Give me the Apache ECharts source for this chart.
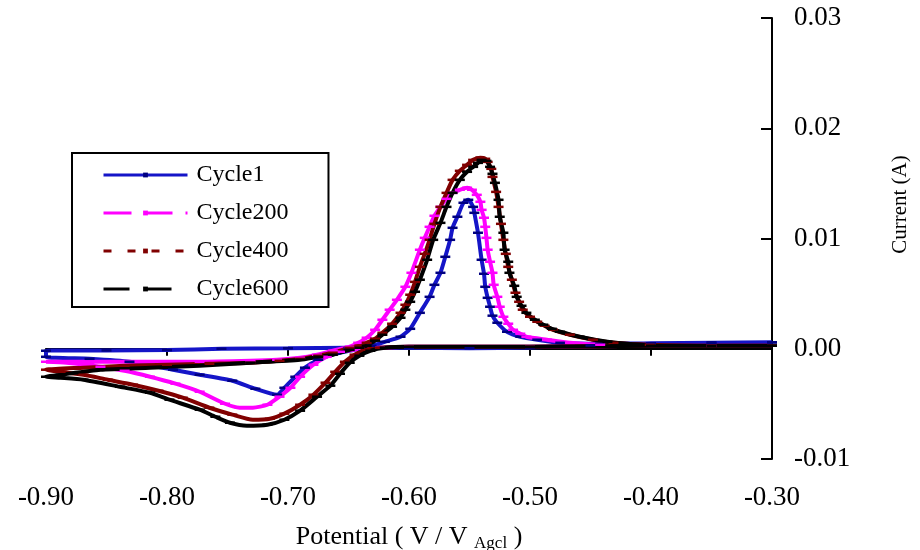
<!DOCTYPE html>
<html lang="en">
<head>
  <meta charset="UTF-8">
  <title>Cyclic voltammograms</title>
  <script src="https://cdn.jsdelivr.net/npm/echarts@6/dist/echarts.min.js"></script>
  <style>
    html, body { margin: 0; padding: 0; background: #fff; }
    #main { width: 920px; height: 550px; }
  </style>
</head>
<body>
<div id="main"></div>
<script>
var seriesNames = ['Cycle1', 'Cycle200', 'Cycle400', 'Cycle600']

// [potential (V), current (A)] in scan order
var cycle1 = [
  [-0.300, 0.00058], [-0.350, 0.00055], [-0.400, 0.00050], [-0.450, 0.00030], [-0.500, 0.00012],
  [-0.550, 0.00005], [-0.600, 0.00009], [-0.650, 0.00009], [-0.700, 0.00005], [-0.755, 0.00000],
  [-0.800, -0.00012], [-0.850, -0.00015], [-0.900, -0.00018],
  [-0.900, -0.00073], [-0.864, -0.00091], [-0.831, -0.00118], [-0.795, -0.00190], [-0.773, -0.00236],
  [-0.746, -0.00290], [-0.727, -0.00363], [-0.709, -0.00417],
  [-0.703, -0.00354], [-0.694, -0.00254], [-0.686, -0.00172], [-0.675, -0.00100], [-0.661, -0.00045],
  [-0.645, -0.00009], [-0.631, 0.00027], [-0.620, 0.00063], [-0.607, 0.00109], [-0.599, 0.00181],
  [-0.591, 0.00326], [-0.583, 0.00471], [-0.579, 0.00580], [-0.574, 0.00689], [-0.570, 0.00834],
  [-0.566, 0.00988], [-0.564, 0.01097], [-0.560, 0.01197], [-0.555, 0.01324], [-0.551, 0.01351],
  [-0.547, 0.01287], [-0.546, 0.01233], [-0.543, 0.01052], [-0.540, 0.00807], [-0.538, 0.00680],
  [-0.537, 0.00562], [-0.535, 0.00462], [-0.533, 0.00381], [-0.531, 0.00300], [-0.527, 0.00236],
  [-0.519, 0.00154], [-0.508, 0.00109], [-0.494, 0.00082], [-0.475, 0.00054], [-0.442, 0.00045],
  [-0.400, 0.00050], [-0.350, 0.00055], [-0.300, 0.00058]
]

var cycle200 = [
  [-0.300, 0.00027], [-0.400, 0.00027], [-0.500, 0.00018], [-0.600, 0.00018], [-0.624, 0.00009],
  [-0.641, 0.00000], [-0.646, -0.00009], [-0.657, -0.00027], [-0.668, -0.00073], [-0.679, -0.00145],
  [-0.690, -0.00254], [-0.698, -0.00354], [-0.707, -0.00435], [-0.717, -0.00508], [-0.729, -0.00535],
  [-0.740, -0.00535], [-0.752, -0.00499], [-0.773, -0.00390], [-0.793, -0.00317], [-0.814, -0.00254],
  [-0.835, -0.00200], [-0.855, -0.00163], [-0.883, -0.00127], [-0.900, -0.00118],
  [-0.883, -0.00118], [-0.855, -0.00118], [-0.814, -0.00118], [-0.773, -0.00118], [-0.731, -0.00109],
  [-0.709, -0.00100], [-0.690, -0.00082], [-0.676, -0.00054], [-0.663, -0.00018], [-0.649, 0.00018],
  [-0.642, 0.00054], [-0.635, 0.00100], [-0.628, 0.00172], [-0.622, 0.00263], [-0.616, 0.00354],
  [-0.610, 0.00444], [-0.603, 0.00562], [-0.598, 0.00689], [-0.591, 0.00898], [-0.587, 0.01006],
  [-0.583, 0.01106], [-0.579, 0.01206], [-0.574, 0.01287], [-0.569, 0.01360], [-0.564, 0.01414],
  [-0.558, 0.01442], [-0.552, 0.01460], [-0.548, 0.01442], [-0.544, 0.01396], [-0.541, 0.01333],
  [-0.540, 0.01260], [-0.538, 0.01188], [-0.537, 0.01106], [-0.536, 0.01006], [-0.535, 0.00898],
  [-0.533, 0.00789], [-0.531, 0.00689], [-0.530, 0.00580], [-0.527, 0.00471], [-0.525, 0.00381],
  [-0.522, 0.00290], [-0.518, 0.00227], [-0.514, 0.00172], [-0.508, 0.00136], [-0.503, 0.00109],
  [-0.486, 0.00082], [-0.467, 0.00054], [-0.442, 0.00036], [-0.400, 0.00027], [-0.350, 0.00027],
  [-0.300, 0.00027]
]

var cycle400 = [
  [-0.300, 0.00027], [-0.400, 0.00027], [-0.500, 0.00018], [-0.600, 0.00018], [-0.624, 0.00009],
  [-0.636, -0.00009], [-0.645, -0.00054], [-0.653, -0.00118], [-0.661, -0.00209], [-0.669, -0.00308],
  [-0.679, -0.00417], [-0.690, -0.00508], [-0.703, -0.00589], [-0.715, -0.00635], [-0.729, -0.00644],
  [-0.746, -0.00598], [-0.765, -0.00535], [-0.787, -0.00444], [-0.807, -0.00381], [-0.828, -0.00326],
  [-0.849, -0.00281], [-0.869, -0.00236], [-0.888, -0.00209], [-0.900, -0.00190],
  [-0.869, -0.00172], [-0.835, -0.00154], [-0.800, -0.00145], [-0.765, -0.00136], [-0.731, -0.00127],
  [-0.707, -0.00109], [-0.690, -0.00091], [-0.675, -0.00063], [-0.663, -0.00036], [-0.649, 0.00009],
  [-0.641, 0.00027], [-0.635, 0.00054], [-0.628, 0.00091], [-0.622, 0.00145], [-0.614, 0.00227],
  [-0.607, 0.00326], [-0.603, 0.00399], [-0.599, 0.00490], [-0.595, 0.00607], [-0.591, 0.00743],
  [-0.587, 0.00861], [-0.583, 0.00988], [-0.579, 0.01133], [-0.574, 0.01287], [-0.569, 0.01414],
  [-0.564, 0.01532], [-0.558, 0.01614], [-0.552, 0.01668], [-0.547, 0.01713], [-0.541, 0.01732],
  [-0.537, 0.01723], [-0.535, 0.01695], [-0.532, 0.01632], [-0.531, 0.01559], [-0.528, 0.01423],
  [-0.526, 0.01287], [-0.524, 0.01133], [-0.522, 0.00988], [-0.520, 0.00861], [-0.518, 0.00743],
  [-0.515, 0.00626], [-0.512, 0.00508], [-0.509, 0.00426], [-0.506, 0.00354], [-0.500, 0.00290],
  [-0.494, 0.00245], [-0.488, 0.00209], [-0.481, 0.00172], [-0.467, 0.00127], [-0.448, 0.00082],
  [-0.431, 0.00054], [-0.401, 0.00036], [-0.350, 0.00027], [-0.300, 0.00027]
]

var cycle600 = [
  [-0.300, 0.00027], [-0.400, 0.00027], [-0.500, 0.00018], [-0.600, 0.00018], [-0.620, 0.00009],
  [-0.632, -0.00018], [-0.641, -0.00063], [-0.649, -0.00127], [-0.657, -0.00227], [-0.665, -0.00335],
  [-0.676, -0.00435], [-0.690, -0.00562], [-0.703, -0.00644], [-0.717, -0.00689], [-0.734, -0.00698],
  [-0.748, -0.00671], [-0.760, -0.00617], [-0.773, -0.00553], [-0.798, -0.00462], [-0.814, -0.00399],
  [-0.839, -0.00345], [-0.869, -0.00281], [-0.888, -0.00263], [-0.900, -0.00254],
  [-0.888, -0.00236], [-0.855, -0.00190], [-0.814, -0.00172], [-0.773, -0.00154], [-0.731, -0.00127],
  [-0.690, -0.00100], [-0.675, -0.00073], [-0.663, -0.00054], [-0.649, -0.00009], [-0.641, 0.00009],
  [-0.635, 0.00027], [-0.628, 0.00073], [-0.622, 0.00127], [-0.614, 0.00200], [-0.607, 0.00281],
  [-0.603, 0.00354], [-0.599, 0.00426], [-0.595, 0.00517], [-0.591, 0.00626], [-0.585, 0.00807],
  [-0.580, 0.00988], [-0.574, 0.01142], [-0.569, 0.01287], [-0.564, 0.01414], [-0.558, 0.01532],
  [-0.552, 0.01605], [-0.547, 0.01650], [-0.543, 0.01686], [-0.540, 0.01713], [-0.536, 0.01704],
  [-0.533, 0.01650], [-0.531, 0.01587], [-0.529, 0.01505], [-0.526, 0.01351], [-0.525, 0.01197],
  [-0.522, 0.01052], [-0.521, 0.00898], [-0.518, 0.00789], [-0.517, 0.00689], [-0.513, 0.00571],
  [-0.511, 0.00471], [-0.507, 0.00390], [-0.503, 0.00326], [-0.496, 0.00263], [-0.489, 0.00218],
  [-0.482, 0.00181], [-0.475, 0.00154], [-0.459, 0.00109], [-0.436, 0.00063], [-0.420, 0.00045],
  [-0.393, 0.00027], [-0.350, 0.00027], [-0.300, 0.00027]
]

var lineColors = ['#1515c8', '#ff00ff', '#800000', '#000000']
var markColors = ['#000080', '#ff00ff', '#800000', '#000000']
var legendDash = ['solid', [28, 13], [8, 16], [26, 16]]

var font = 'Liberation Serif'
var allData = [cycle1, cycle200, cycle400, cycle600]

var myChart = echarts.init(document.getElementById('main'))

var series = seriesNames.map(function (name, i) {
  return {
    name: name,
    type: 'line',
    data: allData[i],
    smooth: 0.2,
    symbol: 'rect',
    symbolSize: [10, 2.5],
    showAllSymbol: true,
    lineStyle: { color: lineColors[i], width: 4 },
    itemStyle: { color: markColors[i] },
    emphasis: { disabled: true }
  }
})

var option = {
  animation: false,
  backgroundColor: '#fff',
  grid: { left: 46, right: 148, top: 18, bottom: 91, outerBoundsMode: 'none', containLabel: false },
  legend: {
    orient: 'vertical',
    left: 72,
    top: 153,
    padding: [10, 40, 6, 30],
    borderColor: '#000',
    borderWidth: 2,
    itemWidth: 84,
    itemHeight: 6,
    itemGap: 14,
    selectedMode: false,
    textStyle: { fontFamily: font, fontSize: 24, lineHeight: 24, color: '#000', padding: [0, 0, 0, 4] },
    data: seriesNames.map(function (name, i) {
      return { name: name, lineStyle: { type: legendDash[i], width: 3 } }
    })
  },
  xAxis: {
    type: 'value',
    min: -0.9,
    max: -0.3,
    interval: 0.1,
    splitLine: { show: false },
    axisLine: { onZero: true, lineStyle: { color: '#000', width: 2 } },
    axisTick: { show: true, length: 7, lineStyle: { color: '#000', width: 2 } },
    axisLabel: {
      margin: 25,
      fontFamily: font,
      fontSize: 27,
      color: '#000',
      formatter: function (v) { return v.toFixed(2) }
    },
    name: 'Potential ( V / V {sub|Agcl} )',
    nameLocation: 'middle',
    nameGap: 64,
    nameTextStyle: {
      fontFamily: font,
      fontSize: 26,
      color: '#000',
      rich: { sub: { fontFamily: font, fontSize: 17, color: '#000', padding: [12, 0, 0, 0] } }
    }
  },
  yAxis: {
    type: 'value',
    position: 'right',
    min: -0.01,
    max: 0.03,
    interval: 0.01,
    splitLine: { show: false },
    axisLine: { show: true, lineStyle: { color: '#000', width: 2 } },
    axisTick: { show: true, inside: true, length: 11, lineStyle: { color: '#000', width: 2 } },
    axisLabel: {
      margin: 22,
      fontFamily: font,
      fontSize: 27,
      color: '#000',
      formatter: function (v) { return v.toFixed(2) }
    },
    name: 'Current (A)',
    nameLocation: 'middle',
    nameRotate: 90,
    nameGap: 118,
    nameTextStyle: { fontFamily: font, fontSize: 21, color: '#000', padding: [0, 0, 0, 68] }
  },
  series: series
}

myChart.setOption(option)
</script>
</body>
</html>
